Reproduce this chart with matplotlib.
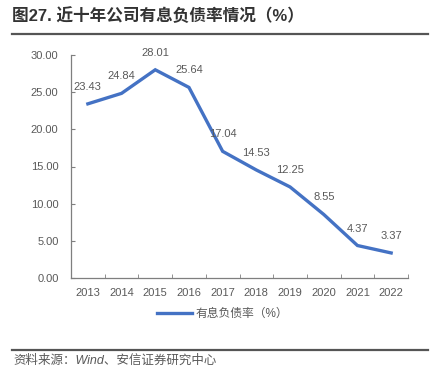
"""近十年公司有息负债率情况"""
import matplotlib
matplotlib.use('Agg')
from matplotlib import pyplot as plt
from matplotlib.lines import Line2D

plt.rcParams['font.family'] = ['Liberation Sans', 'Noto Sans CJK SC', 'DejaVu Sans']

years = ['2013', '2014', '2015', '2016', '2017', '2018', '2019', '2020', '2021', '2022']
ratio = [23.43, 24.84, 28.01, 25.64, 17.04, 14.53, 12.25, 8.55, 4.37, 3.37]
yticks = [0, 5, 10, 15, 20, 25, 30]

line_color = '#4472C4'
text_color = '#595959'
axis_color = '#7f7f7f'

fig = plt.figure(figsize=(4.42, 3.8), dpi=100)
ax = fig.add_axes([71 / 442, 1 - 278 / 380, 337 / 442, 223 / 380])

x = list(range(len(years)))
ax.plot(x, ratio, color=line_color, linewidth=2.4, solid_joinstyle='miter')

# 数据标签放在点的上方
for xi, v in zip(x, ratio):
    ax.annotate(f'{v:.2f}', (xi, v), xytext=(0, 17), textcoords='offset pixels',
                ha='center', va='center', fontsize=8, color=text_color)

ax.set_xlim(-0.5, len(years) - 0.5)
ax.set_ylim(0, 30)
ax.set_yticks(yticks)
ax.set_yticklabels([f'{t:.2f}' for t in yticks])
ax.set_xticks(x)
ax.set_xticklabels(years)
ax.set_xticks([i - 0.5 for i in range(len(years) + 1)], minor=True)

ax.tick_params(axis='x', which='major', length=0, pad=7, labelsize=8, labelcolor=text_color)
ax.tick_params(axis='x', which='minor', length=3, direction='in', color=axis_color)
ax.tick_params(axis='y', length=3, direction='in', pad=9, labelsize=8,
               labelcolor=text_color, color=axis_color)

for s in ['top', 'right']:
    ax.spines[s].set_visible(False)
for s in ['left', 'bottom']:
    ax.spines[s].set_color(axis_color)
    ax.spines[s].set_linewidth(0.9)

# 图例
handle = Line2D([0], [0], color=line_color, linewidth=2.4)
fig.legend([handle], ['有息负债率（%）'], loc='center', bbox_to_anchor=(0.503, 1 - 314 / 380),
           frameon=False, fontsize=8.5, labelcolor=text_color, handlelength=3.0,
           handletextpad=0.3)

# 标题与分隔线
fig.text(12 / 442, 1 - 16 / 380, '图27. 近十年公司有息负债率情况（%）', fontsize=12,
         fontweight='bold', color='#333333', ha='left', va='center')
fig.add_artist(Line2D([12 / 442, 428 / 442], [1 - 34 / 380, 1 - 34 / 380],
                      color='#555555', linewidth=1.6))
fig.add_artist(Line2D([12 / 442, 428 / 442], [1 - 350 / 380, 1 - 350 / 380],
                      color='#555555', linewidth=1.6))
fig.text(13 / 442, 1 - 361 / 380, '资料来源：Wind、安信证券研究中心', fontsize=9,
         color=text_color, ha='left', va='center', style='italic')

fig.savefig('out.png', dpi=100)
